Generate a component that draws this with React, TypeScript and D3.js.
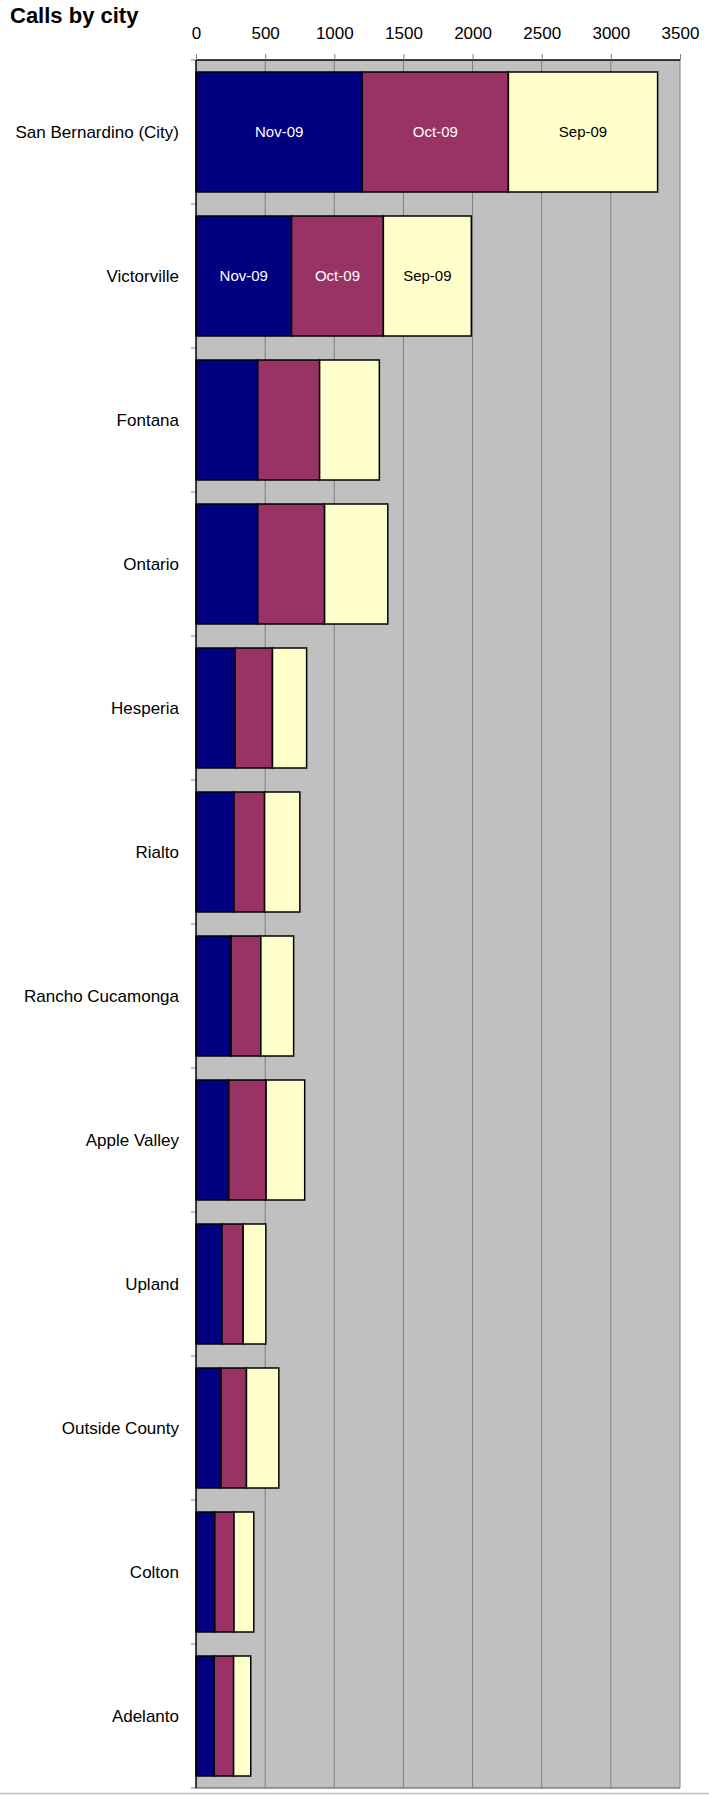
import { useRef, useEffect } from 'react';
import * as d3 from 'd3';

const CITIES = [
  'San Bernardino (City)',
  'Victorville',
  'Fontana',
  'Ontario',
  'Hesperia',
  'Rialto',
  'Rancho Cucamonga',
  'Apple Valley',
  'Upland',
  'Outside County',
  'Colton',
  'Adelanto',
];

const MONTHS = ['Nov-09', 'Oct-09', 'Sep-09'];

const NOV_09 = [1203, 691, 447, 447, 283, 275, 254, 237, 188, 181, 136, 132];
const OCT_09 = [1056, 664, 447, 483, 270, 221, 215, 270, 153, 184, 139, 140];
const SEP_09 = [1079, 636, 432, 457, 247, 255, 237, 279, 164, 234, 143, 124];

// cities whose segments carry the month name
const LABELLED = ['San Bernardino (City)', 'Victorville'];

const X_TICKS = [0, 500, 1000, 1500, 2000, 2500, 3000, 3500];

const COLORS = ['#000080', '#993366', '#FFFFCC'];
const TEXT_COLORS = ['#ffffff', '#ffffff', '#000000'];
const FONT = '"Liberation Sans", Arial, sans-serif';

export default function App() {
  const svgRef = useRef<SVGSVGElement>(null);

  useEffect(() => {
    if (!svgRef.current) return;
    const width = 709;
    const height = 1795;
    const margin = { top: 60, left: 196, right: 29, bottom: 7 };
    const innerW = width - margin.left - margin.right;
    const innerH = height - margin.top - margin.bottom;

    const svg = d3.select(svgRef.current);
    svg.selectAll('*').remove();
    svg.attr('width', width).attr('height', height);

    const rows = CITIES.map((city, i) => ({
      city,
      nov: NOV_09[i],
      oct: OCT_09[i],
      sep: SEP_09[i],
    }));
    const stacked = d3.stack<typeof rows[0]>().keys(['nov', 'oct', 'sep'])(rows);

    const x = d3.scaleLinear().domain([0, 3500]).range([0, innerW]);
    const y = d3.scaleBand().domain(CITIES).range([0, innerH]).paddingInner(1 / 6).paddingOuter(1 / 12);
    const band = innerH / CITIES.length;

    // title
    svg.append('text')
      .attr('x', 10).attr('y', 23)
      .attr('font-family', FONT).attr('font-size', 22).attr('font-weight', 'bold')
      .text('Calls by city');

    // page bottom rule
    svg.append('line')
      .attr('x1', 0).attr('x2', width)
      .attr('y1', 1793.5).attr('y2', 1793.5)
      .attr('stroke', '#c0c0c0').attr('stroke-width', 1.5);

    const g = svg.append('g').attr('transform', `translate(${margin.left},${margin.top})`);

    g.append('rect')
      .attr('width', innerW).attr('height', innerH)
      .attr('fill', '#c0c0c0');

    // grid
    X_TICKS.slice(1).forEach(v => {
      g.append('line')
        .attr('x1', x(v)).attr('x2', x(v))
        .attr('y1', 0).attr('y2', innerH)
        .attr('stroke', '#808080').attr('stroke-width', 1);
    });

    g.append('line')
      .attr('x1', 0).attr('x2', innerW)
      .attr('y1', innerH).attr('y2', innerH)
      .attr('stroke', '#808080').attr('stroke-width', 1.5);

    // bars
    stacked.forEach((layer, li) => {
      g.selectAll(`.seg-${li}`)
        .data(layer)
        .enter()
        .append('rect')
        .attr('x', d => x(d[0]))
        .attr('y', d => y(d.data.city)!)
        .attr('width', d => x(d[1]) - x(d[0]))
        .attr('height', y.bandwidth())
        .attr('fill', COLORS[li])
        .attr('stroke', '#000')
        .attr('stroke-width', 1.5);

      g.selectAll(`.lab-${li}`)
        .data(layer.filter(d => LABELLED.includes(d.data.city)))
        .enter()
        .append('text')
        .attr('x', d => (x(d[0]) + x(d[1])) / 2)
        .attr('y', d => y(d.data.city)! + y.bandwidth() / 2)
        .attr('dy', '0.36em')
        .attr('text-anchor', 'middle')
        .attr('font-family', FONT).attr('font-size', 15)
        .attr('fill', TEXT_COLORS[li])
        .text(MONTHS[li]);
    });

    // top border
    g.append('line')
      .attr('x1', 0).attr('x2', innerW)
      .attr('y1', 0).attr('y2', 0)
      .attr('stroke', '#000').attr('stroke-width', 1.5);

    // x axis on top
    const xAxis = g.append('g')
      .call(d3.axisTop(x).tickValues(X_TICKS).tickSize(6).tickPadding(15).tickFormat(d => String(d)))
      .call(s => s.select('.domain').remove())
      .call(s => s.selectAll('.tick line').attr('stroke', '#808080'))
      .call(s => s.selectAll('.tick text')
        .attr('fill', '#000').attr('font-size', 17).attr('font-family', FONT));
    xAxis.attr('font-family', FONT);

    // category axis
    d3.range(CITIES.length + 1).forEach(k => {
      g.append('line')
        .attr('x1', -5).attr('x2', 0)
        .attr('y1', k * band).attr('y2', k * band)
        .attr('stroke', '#808080');
    });
    g.append('line')
      .attr('x1', 0).attr('x2', 0)
      .attr('y1', 0).attr('y2', innerH)
      .attr('stroke', '#000').attr('stroke-width', 1.5);

    g.selectAll('.city')
      .data(CITIES)
      .enter()
      .append('text')
      .attr('x', -17)
      .attr('y', d => y(d)! + y.bandwidth() / 2)
      .attr('dy', '0.36em')
      .attr('text-anchor', 'end')
      .attr('font-family', FONT).attr('font-size', 17)
      .attr('fill', '#000')
      .text(d => d);
  }, []);

  return <svg ref={svgRef} style={{ position: 'absolute', left: 0, top: 0 }} />;
}
